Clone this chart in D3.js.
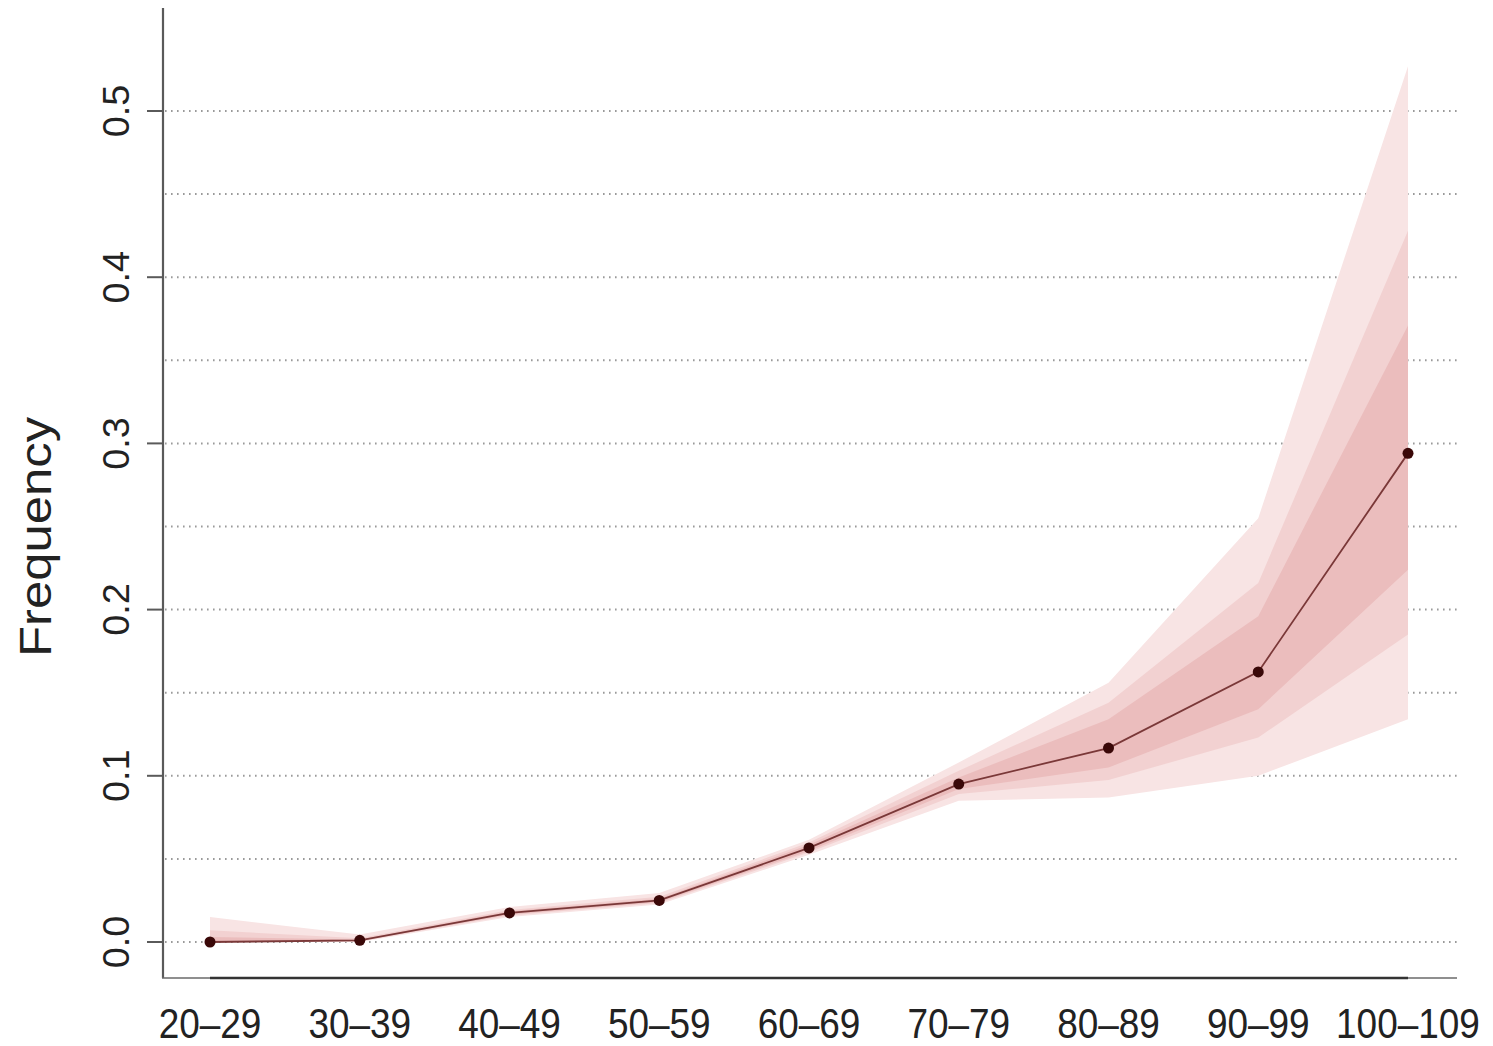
<!DOCTYPE html>
<html>
<head>
<meta charset="utf-8">
<script src="https://cdn.jsdelivr.net/npm/d3@7"></script>
<style>
  html, body { margin: 0; padding: 0; background: #fff; }
  svg text { font-family: "Liberation Sans", Arial, Helvetica, sans-serif; fill: #222; }
</style>
</head>
<body>
<svg id="chart" width="1493" height="1046"></svg>
<script>
// Age groups on the x axis
const categories = ["20–29", "30–39", "40–49", "50–59", "60–69", "70–79", "80–89", "90–99", "100–109"];

// Median frequency per age group
const median = [0.000, 0.001, 0.0175, 0.025, 0.0566, 0.095, 0.1167, 0.1625, 0.294];

// Credible intervals (inner, middle, outer)
const lo50 = [0.000, 0.0008, 0.0165, 0.024, 0.0548, 0.092, 0.105, 0.140, 0.224];
const hi50 = [0.003, 0.0015, 0.0185, 0.026, 0.0585, 0.099, 0.134, 0.196, 0.371];
const lo80 = [0.000, 0.0005, 0.0160, 0.0235, 0.0538, 0.089, 0.0975, 0.123, 0.185];
const hi80 = [0.007, 0.0022, 0.0192, 0.0272, 0.0598, 0.103, 0.144, 0.216, 0.428];
const lo95 = [0.000, 0.000, 0.0150, 0.0225, 0.0525, 0.085, 0.087, 0.100, 0.134];
const hi95 = [0.015, 0.0045, 0.0210, 0.0295, 0.0615, 0.108, 0.156, 0.255, 0.527];

// Axis ticks
const yTicks = [0.0, 0.1, 0.2, 0.3, 0.4, 0.5];
const yGrid = [0.0, 0.05, 0.1, 0.15, 0.2, 0.25, 0.3, 0.35, 0.4, 0.45, 0.5];
const yTickLabels = ["0.0", "0.1", "0.2", "0.3", "0.4", "0.5"];

const svg = d3.select("#chart");

const x = d3.scalePoint().domain(categories).range([210, 1408]);
const y = d3.scaleLinear().domain([0, 0.5]).range([942, 111]);

const plotLeft = 163, plotRight = 1457, plotBottom = 978, plotTop = 8;

// Dotted horizontal grid
svg.append("g")
  .selectAll("line")
  .data(yGrid)
  .join("line")
  .attr("x1", plotLeft + 2)
  .attr("x2", plotRight)
  .attr("y1", d => y(d))
  .attr("y2", d => y(d))
  .attr("stroke", "#9a9a9a")
  .attr("stroke-width", 2)
  .attr("stroke-dasharray", "1.6,4.4");

// Interval bands, widest first
const bands = [
  { lo: lo95, hi: hi95, fill: "#f8e4e4" },
  { lo: lo80, hi: hi80, fill: "#f2d1d1" },
  { lo: lo50, hi: hi50, fill: "#ebbdbd" }
];

const area = (lo, hi) => d3.area()
  .x((d, i) => x(categories[i]))
  .y0((d, i) => y(lo[i]))
  .y1((d, i) => y(hi[i]));

svg.append("g")
  .selectAll("path")
  .data(bands)
  .join("path")
  .attr("d", b => area(b.lo, b.hi)(categories))
  .attr("fill", b => b.fill);

// Median line and points
const line = d3.line()
  .x((d, i) => x(categories[i]))
  .y(d => y(d));

svg.append("path")
  .datum(median)
  .attr("d", line)
  .attr("fill", "none")
  .attr("stroke", "#7a3838")
  .attr("stroke-width", 1.8);

svg.append("g")
  .selectAll("circle")
  .data(median)
  .join("circle")
  .attr("cx", (d, i) => x(categories[i]))
  .attr("cy", d => y(d))
  .attr("r", 5.5)
  .attr("fill", "#3a0808");

// Y axis
const yAxis = svg.append("g");
yAxis.append("line")
  .attr("x1", plotLeft).attr("x2", plotLeft)
  .attr("y1", plotTop).attr("y2", plotBottom)
  .attr("stroke", "#5a5a5a").attr("stroke-width", 2.2);

yAxis.selectAll("line.tick")
  .data(yTicks)
  .join("line")
  .attr("class", "tick")
  .attr("x1", 147).attr("x2", plotLeft)
  .attr("y1", d => y(d)).attr("y2", d => y(d))
  .attr("stroke", "#5a5a5a").attr("stroke-width", 2);

yAxis.selectAll("text")
  .data(yTicks)
  .join("text")
  .attr("transform", d => `translate(128.5,${y(d)}) rotate(-90) scale(1.05,1)`)
  .attr("text-anchor", "middle")
  .attr("font-size", 36)
  .text((d, i) => yTickLabels[i]);

// Y axis title
svg.append("text")
  .attr("transform", "translate(51,537) rotate(-90) scale(1.13,1)")
  .attr("text-anchor", "middle")
  .attr("font-size", 45)
  .text("Frequency");

// X axis: thin frame line plus heavier axis line between end ticks
svg.append("line")
  .attr("x1", plotLeft - 1).attr("x2", plotRight)
  .attr("y1", plotBottom).attr("y2", plotBottom)
  .attr("stroke", "#6a6a6a").attr("stroke-width", 1.6);
svg.append("line")
  .attr("x1", x(categories[0])).attr("x2", x(categories[categories.length - 1]))
  .attr("y1", plotBottom).attr("y2", plotBottom)
  .attr("stroke", "#333").attr("stroke-width", 2.4);

svg.append("g")
  .selectAll("text")
  .data(categories)
  .join("text")
  .attr("transform", d => `translate(${x(d)},1038) scale(0.88,1)`)
  .attr("text-anchor", "middle")
  .attr("font-size", 42)
  .text(d => d);
</script>
</body>
</html>
